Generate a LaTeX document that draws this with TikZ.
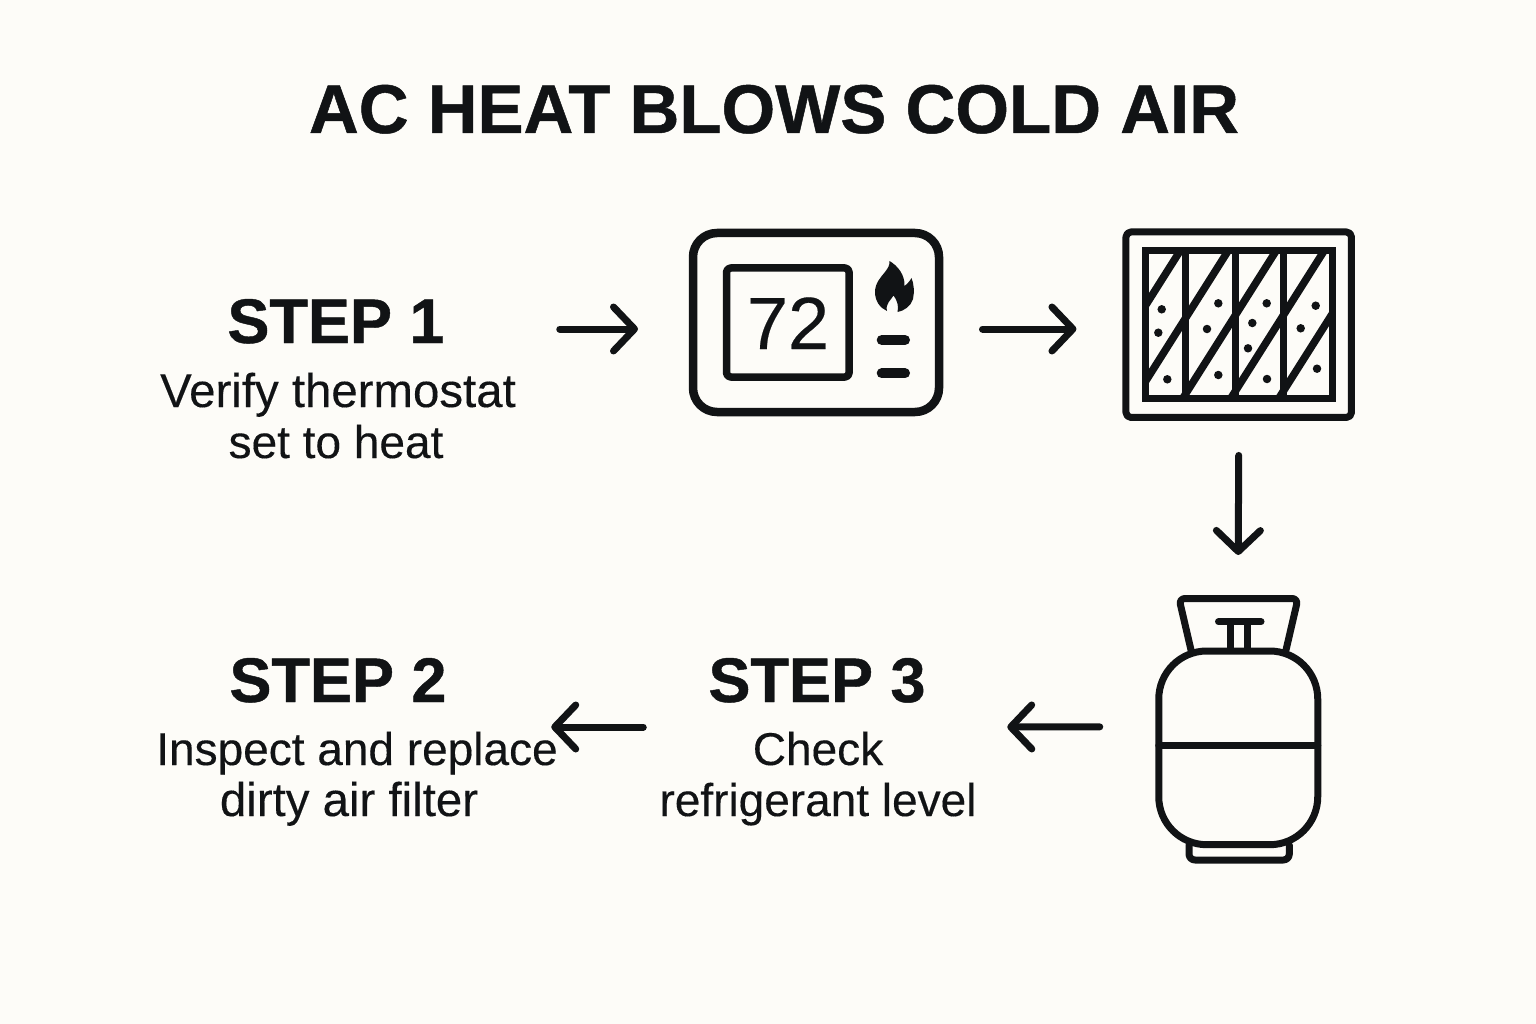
\documentclass[tikz,border=0pt]{standalone}
\usepackage{fontspec}
\setmainfont{Liberation Sans}[FakeBold=0.25,BoldFeatures={FakeBold=0.7}]
\usetikzlibrary{arrows.meta,positioning}
\definecolor{ink}{HTML}{111315}
\definecolor{paper}{HTML}{FDFCF8}
\tikzset{
  heading/.style={text=ink,font=\fontsize{63}{63}\selectfont\bfseries,inner sep=0pt,anchor=base},
  body/.style={text=ink,font=\fontsize{46}{46}\selectfont,inner sep=0pt,anchor=base},
  wide body/.style={body,font=\fontsize{47.4}{47.4}\selectfont},
  arrow/.style={draw=ink,line width=7pt,line cap=round,line join=round,
    -{Straight Barb[length=21pt,width=44pt,line width=7pt,round]}},
  icon/.style={draw=ink,line width=7pt,line join=round,line cap=round,outer sep=0pt,inner sep=0pt},
  speck/.style={fill=ink,circle,inner sep=0pt,minimum size=8.5pt}
}
\begin{document}
\begin{tikzpicture}[x=1pt,y=-1pt]
  \useasboundingbox[fill=paper] (0,0) rectangle (1536,1024);

  \node[text=ink,font=\fontsize{69}{69}\selectfont\bfseries,inner sep=0pt,anchor=base] (title) at (774,133) {AC HEAT BLOWS COLD AIR};

  % step 1
  \node[heading] (step1) at (336,343) {STEP 1};
  \node[wide body] (step1a) at (338,407) {Verify thermostat};
  \node[body] (step1b) at (336,458) {set to heat};

  % thermostat
  \node[icon,line width=8.5pt,rounded corners=24pt,minimum width=246pt,minimum height=179pt] (therm) at (816,322.5) {};
  \node[icon,line width=7.5pt,rounded corners=4pt,minimum width=122.5pt,minimum height=109pt] (screen) at (787.8,322.5) {};
  \node[text=ink,font=\fontsize{74}{74}\selectfont,inner sep=0pt,anchor=base] (temp) at (788,349) {72};
  \fill[ink] (889.5,261) .. controls (898,266) and (905,275) .. (904.5,286)
    .. controls (907,284) and (910,281) .. (911.5,278)
    .. controls (914,284) and (914.5,292) .. (913,299)
    .. controls (911,306) and (904,311) .. (897.5,312)
    .. controls (899,306) and (897,300) .. (893.5,295.5)
    .. controls (891,300) and (885,304) .. (887,311)
    .. controls (880,308) and (875,301) .. (875,292)
    .. controls (875,283) and (881,277) .. (885,272)
    .. controls (888,268) and (890,265) .. (889.5,261) -- cycle;
  \draw[icon,line width=10pt] (881.7,340) -- (905,340);
  \draw[icon,line width=10pt] (881.7,373.3) -- (905,373.3);

  % filter
  \node[icon,rounded corners=5pt,minimum width=225.5pt,minimum height=185.5pt] (filter) at (1238.7,324.7) {};
  \draw[icon,line join=miter] (1145,251) rectangle (1332,398);
  \foreach \x in {1185,1235,1283.5}
    \draw[icon,line cap=butt] (\x,251) -- (\x,398);
  \begin{scope}
    \clip (1145,251) rectangle (1332,398);
    \foreach \x in {1180,1228,1276,1324,1372}
      \draw[icon,line width=7.5pt,line cap=butt] (\x,251) -- ++(-93,147);
  \end{scope}
  \foreach \x/\y in {1161.7/309.3,1158.3/332.7,1167.3/379.3,1218.3/303.3,1207/329,1218.3/375,1266.7/303.3,1252.3/323,1248/348.3,1267/379,1315.7/305.7,1300.7/328.3,1317/368.7}
    \node[speck] at (\x,\y) {};

  % tank
  \draw[icon,rounded corners=6pt] (1191,650) -- (1179,598.5) -- (1298,598.5) -- (1286,650);
  \draw[icon] (1218.5,621.7) -- (1261,621.7);
  \draw[icon] (1230,621.7) -- (1230,650);
  \draw[icon] (1247.3,621.7) -- (1247.3,650);
  \draw[icon,rounded corners=6pt] (1189,845) -- (1189,860) -- (1289.3,860) -- (1289.3,845);
  \node[icon,fill=paper,rounded corners=48pt,minimum width=159pt,minimum height=193.7pt] (tank) at (1238.25,747.85) {};
  \draw[icon] (tank.west |- 0,745.7) -- (tank.east |- 0,745.7);

  % step 3
  \node[heading] (step3) at (817,702) {STEP 3};
  \node[body] (step3a) at (818,765) {Check};
  \node[body] (step3b) at (818,816) {refrigerant level};

  % step 2
  \node[heading] (step2) at (338,702) {STEP 2};
  \node[body] (step2a) at (357,765) {Inspect and replace};
  \node[wide body] (step2b) at (349,816) {dirty air filter};

  % connectors
  \draw[arrow] ([xshift=115pt,yshift=14pt]step1.base east) -- ([xshift=-55pt,yshift=-6.5pt]therm.west);
  \draw[arrow] ([xshift=43.5pt,yshift=-6.5pt]therm.east) -- ([xshift=-49.5pt,yshift=-4.3pt]filter.west);
  \draw[arrow] ([yshift=-38pt]filter.south) -- ([yshift=96pt]tank.north);
  \draw[arrow] ([xshift=-59pt,yshift=21pt]tank.west) -- ([xshift=81.5pt,yshift=-25pt]step3.base east);
  \draw[arrow] ([xshift=-65pt,yshift=-25pt]step3.base west) -- ([xshift=104.5pt,yshift=-25pt]step2.base east);
\end{tikzpicture}
\end{document}
